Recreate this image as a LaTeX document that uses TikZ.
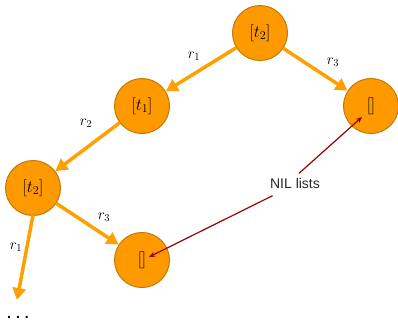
\RequirePackage{fix-cm}
\documentclass[tikz,border=0pt]{standalone}
\usepackage{fontspec}
\setsansfont{Liberation Sans}
\usetikzlibrary{arrows.meta}
\definecolor{orfill}{RGB}{255,153,0}
\definecolor{orline}{RGB}{192,122,0}
\definecolor{oredge}{RGB}{255,160,0}
\definecolor{darkred}{RGB}{150,0,0}
\begin{document}
\begin{tikzpicture}[x=1pt,y=-1pt,
  tnode/.style={circle,fill=orfill,draw=orline,line width=1pt,minimum size=55pt,inner sep=0pt,font=\fontsize{17}{20}\selectfont},
  edge/.style={draw=oredge,line width=3.5pt,-{Triangle[length=12pt,width=13pt]}},
  lab/.style={font=\fontsize{15}{18}\selectfont},
  nil/.style={draw=darkred,line width=1.2pt,-{Stealth[length=6pt,width=5pt]}}]
\useasboundingbox (0,0) rectangle (398,327);
\node[tnode] (A) at (260,33) {$[t_2]$};
\node[tnode] (B) at (142,106) {$[t_1]$};
\node[tnode] (C) at (33,188) {$[t_2]$};
\node[tnode] (D) at (371,106) {$[]$};
\node[tnode] (E) at (142,260) {$[]$};
\coordinate (F) at (17,300);
\node[font=\sffamily\bfseries\fontsize{14}{16}\selectfont,inner sep=0pt] (dots) at (18,317) {.\hspace{5pt}.\hspace{5pt}.};
\draw[edge] (A) -- (B);
\draw[edge] (A) -- (D);
\draw[edge] (B) -- (C);
\draw[edge] (C) -- (E);
\draw[edge] (C.south) ++(0,-1) -- (F);
\node[lab] (l1) at (194,56) {$r_1$};
\node[lab] (l2) at (333,62) {$r_3$};
\node[lab] (l3) at (86,123) {$r_2$};
\node[lab] (l4) at (104,217) {$r_3$};
\node[lab] (l5) at (16,247) {$r_1$};
\node[font=\sffamily\fontsize{14}{16}\selectfont,text=black!85] (nil) at (295,183) {NIL lists};
\coordinate (tD) at (362,117);
\coordinate (tE) at (149,257);
\draw[nil] (nil.north) ++(4,-1) -- (tD);
\draw[nil] (nil.south west) ++(6,4) -- (tE);
\end{tikzpicture}
\end{document}
